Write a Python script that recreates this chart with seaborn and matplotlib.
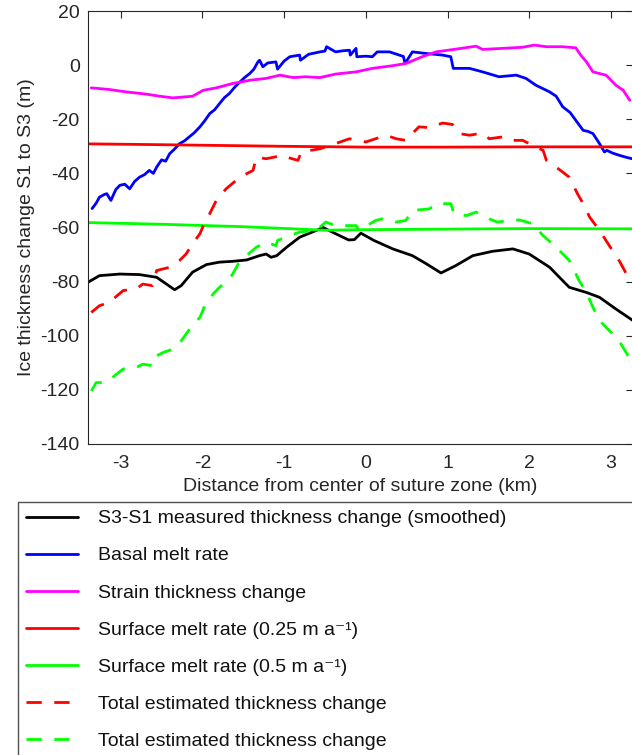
import matplotlib
matplotlib.use("Agg")
import matplotlib.pyplot as plt
import seaborn as sns
import numpy as np

# distance (km) / thickness change (m)
meas_x = [-3.41, -3.26, -3.01, -2.77, -2.56, -2.44, -2.34, -2.26, -2.12, -1.95,
          -1.79, -1.63, -1.46, -1.30, -1.22, -1.16, -1.09, -0.97, -0.81, -0.56,
          -0.53, -0.37, -0.21, -0.14, -0.06, 0.10, 0.33, 0.57, 0.74, 0.92,
          1.10, 1.31, 1.55, 1.80, 2.00, 2.25, 2.49, 2.70, 2.86, 3.06, 3.27]
meas_y = [-80.4, -77.8, -77.2, -77.4, -78.4, -80.9, -83.0, -81.5, -76.5, -73.7,
          -72.8, -72.5, -72.0, -70.4, -69.8, -71.0, -70.4, -67.3, -63.6, -60.5,
          -59.9, -62.3, -64.6, -64.5, -62.1, -64.8, -67.9, -70.4, -73.4, -76.8,
          -74.1, -70.4, -68.8, -67.9, -69.8, -74.7, -82.1, -84.0, -85.8, -90.1, -94.4]

basal_x = [-3.35, -3.30, -3.26, -3.20, -3.17, -3.12, -3.06, -3.01, -2.95, -2.89,
           -2.83, -2.77, -2.71, -2.65, -2.60, -2.56, -2.50, -2.45, -2.40, -2.34,
           -2.28, -2.22, -2.16, -2.10, -2.03, -1.97, -1.91, -1.85, -1.79, -1.73,
           -1.67, -1.60, -1.54, -1.48, -1.42, -1.37, -1.32, -1.30, -1.26, -1.20,
           -1.10, -1.08, -1.00, -0.93, -0.81, -0.80, -0.70, -0.56, -0.50, -0.48,
           -0.37, -0.28, -0.20, -0.19, -0.12, -0.11, 0.00, 0.08, 0.14, 0.29,
           0.41, 0.46, 0.48, 0.57, 0.74, 0.94, 1.04, 1.07, 1.27, 1.43,
           1.63, 1.84, 1.96, 2.08, 2.25, 2.33, 2.41, 2.50, 2.57, 2.66,
           2.72, 2.78, 2.86, 2.92, 2.95, 3.02, 3.10, 3.18, 3.26]
basal_y = [-53.0, -51.0, -48.8, -47.8, -47.5, -50.0, -46.0, -44.4, -44.0, -45.7,
           -43.0, -41.4, -40.5, -38.9, -40.0, -37.7, -35.0, -35.5, -32.7, -31.0,
           -29.0, -28.0, -26.5, -25.0, -22.8, -20.5, -17.9, -16.5, -14.2, -12.0,
           -10.5, -8.0, -6.2, -4.5, -3.1, -1.5, 1.2, 1.8, -0.6, 0.8,
           1.2, -1.5, 1.5, 3.1, 3.7, 1.8, 4.0, 4.9, 5.2, 6.8,
           4.9, 5.3, 5.5, 3.7, 6.2, 3.1, 3.3, 3.1, 4.9, 4.9,
           3.7, 3.2, 0.6, 4.9, 4.3, 3.7, 3.1, -1.2, -1.2, -2.5,
           -4.3, -3.7, -4.9, -7.4, -9.9, -11.5, -15.4, -17.5, -20.4, -24.1,
           -24.5, -25.3, -29.0, -32.1, -31.5, -32.5, -33.3, -34.0, -34.6]

strain_x = [-3.36, -3.14, -2.93, -2.69, -2.52, -2.36, -2.20, -2.12, -1.99, -1.83,
            -1.63, -1.42, -1.22, -1.05, -0.89, -0.74, -0.56, -0.37, -0.12, 0.08,
            0.33, 0.49, 0.69, 0.86, 1.10, 1.35, 1.43, 1.68, 1.92, 2.06,
            2.21, 2.41, 2.57, 2.63, 2.70, 2.78, 2.94, 3.06, 3.15, 3.23]
strain_y = [-8.4, -9.0, -9.9, -10.7, -11.5, -12.1, -11.7, -11.5, -9.3, -8.4,
            -6.8, -5.6, -4.9, -3.7, -4.6, -4.3, -4.6, -3.3, -2.5, -1.2,
            -0.2, 0.6, 3.1, 4.9, 5.9, 7.0, 5.8, 6.2, 6.6, 7.4,
            6.8, 6.8, 6.4, 3.7, 1.2, -2.5, -3.7, -7.4, -9.3, -13.0]

surf25_x = [-3.38, -2.5, -2.0, -1.0, 0.0, 1.0, 2.0, 3.26]
surf25_y = [-29.1, -29.4, -29.6, -30.0, -30.3, -30.3, -30.2, -30.2]

surf50_x = [-3.38, -2.5, -1.5, -0.5, 0.0, 1.0, 2.0, 3.26]
surf50_y = [-58.2, -58.8, -59.7, -61.0, -60.8, -60.6, -60.4, -60.5]

tot25_x = [-3.36, -3.26, -3.14, -2.97, -2.81, -2.73, -2.61, -2.56, -2.40, -2.28,
           -2.20, -2.12, -2.03, -1.97, -1.91, -1.83, -1.71, -1.54, -1.38, -1.34,
           -1.22, -1.01, -0.97, -0.83, -0.79, -0.56, -0.37, -0.20, 0.00, 0.25,
           0.37, 0.49, 0.53, 0.65, 0.78, 0.94, 1.06, 1.14, 1.27, 1.43,
           1.51, 1.68, 1.76, 1.92, 2.04, 2.17, 2.21, 2.33, 2.49, 2.59,
           2.66, 2.74, 2.86, 2.98, 3.10, 3.19]
tot25_y = [-91.4, -88.9, -87.7, -83.3, -82.7, -80.9, -81.5, -75.9, -74.7, -72.2,
           -69.8, -66.0, -62.3, -58.0, -54.9, -50.0, -45.7, -41.4, -38.9, -34.0,
           -34.6, -33.3, -34.0, -35.2, -32.1, -30.9, -29.0, -27.2, -28.4, -25.9,
           -27.2, -27.8, -26.5, -22.8, -23.1, -21.4, -21.9, -25.3, -25.9, -25.1,
           -27.2, -26.5, -27.8, -27.8, -29.6, -31.5, -35.2, -37.7, -41.4, -47.5,
           -51.2, -56.2, -61.1, -66.7, -72.2, -77.2]

tot50_x = [-3.36, -3.30, -3.18, -2.97, -2.81, -2.73, -2.62, -2.60, -2.48, -2.36,
           -2.26, -2.14, -2.03, -1.97, -1.87, -1.79, -1.67, -1.63, -1.56, -1.46,
           -1.34, -1.22, -1.10, -1.08, -0.93, -0.81, -0.61, -0.49, -0.37, -0.12,
           -0.08, 0.12, 0.20, 0.37, 0.49, 0.57, 0.78, 0.86, 1.04, 1.08,
           1.23, 1.35, 1.51, 1.61, 1.76, 1.88, 2.04, 2.17, 2.33, 2.49,
           2.61, 2.70, 2.78, 2.86, 2.98, 3.10, 3.21]
tot50_y = [-120.4, -117.3, -117.3, -112.3, -111.7, -110.5, -111.0, -108.0, -106.2, -104.9,
           -101.9, -96.9, -93.2, -88.9, -84.6, -82.1, -79.0, -77.2, -73.4, -70.4,
           -67.3, -65.4, -66.7, -64.8, -63.0, -61.7, -61.1, -58.0, -59.3, -59.3,
           -61.0, -57.4, -56.8, -58.0, -57.4, -53.7, -53.1, -51.2, -51.2, -54.9,
           -55.6, -54.3, -56.8, -58.0, -57.4, -57.2, -58.6, -63.0, -67.3, -72.2,
           -79.6, -84.0, -89.5, -94.4, -98.1, -101.9, -107.4]

labels = ["S3-S1 measured thickness change (smoothed)",
          "Basal melt rate",
          "Strain thickness change",
          "Surface melt rate (0.25 m a\u207b\u00b9)",
          "Surface melt rate (0.5 m a\u207b\u00b9)",
          "Total estimated thickness change",
          "Total estimated thickness change"]

sns.set_theme(style="white")
plt.rcParams["font.family"] = ["Liberation Sans", "DejaVu Sans"]
plt.rcParams["axes.unicode_minus"] = False

dark = "#262626"
fig = plt.figure(figsize=(6.32, 7.55), dpi=100)
ax = fig.add_axes([88 / 632, 1 - 444 / 755, 545 / 632, 433 / 755])

dash = (0, (5.5, 4.5))
series = [
    (meas_x, meas_y, "black", "-"),
    (basal_x, basal_y, "#0000ff", "-"),
    (strain_x, strain_y, "#ff00ff", "-"),
    (surf25_x, surf25_y, "#ff0000", "-"),
    (surf50_x, surf50_y, "#00ff00", "-"),
    (tot25_x, tot25_y, "#ff0000", dash),
    (tot50_x, tot50_y, "#00ff00", dash),
]
for (x, y, c, ls), lab in zip(series, labels):
    sns.lineplot(x=x, y=y, ax=ax, color=c, linestyle=ls, linewidth=2,
                 estimator=None, label=lab)

ax.set_xlim(-3.40, 3.27)
ax.set_ylim(-140, 20)
ax.set_xticks([-3, -2, -1, 0, 1, 2, 3])
ax.set_yticks(np.arange(-140, 21, 20))
ax.tick_params(direction="in", top=True, right=True, length=5, width=0.8,
               color=dark, labelcolor=dark, labelsize=14)
ax.tick_params(axis="x", pad=8)
ax.tick_params(axis="y", pad=6)
for s in ax.spines.values():
    s.set_color(dark)
    s.set_linewidth(0.8)
ax.set_xlabel("Distance from center of suture zone (km)", fontsize=14, color=dark, labelpad=4)
ax.set_ylabel("Ice thickness change S1 to S3 (m)", fontsize=14, color=dark, labelpad=4)

handles, labs = ax.get_legend_handles_labels()
ax.get_legend().remove()
leg = fig.legend(handles, labs, loc="upper left",
                 bbox_to_anchor=(18 / 632, 0.0, 1.0, 1 - 502 / 755),
                 mode="expand", borderaxespad=0, fontsize=14, frameon=True,
                 fancybox=False, handlelength=2.7, handletextpad=1.0,
                 borderpad=0.4, labelspacing=1.0)
leg.get_frame().set_edgecolor(dark)
leg.get_frame().set_linewidth(1.0)
for t in leg.get_texts():
    t.set_color("#111111")

fig.savefig("out.png", dpi=100)
